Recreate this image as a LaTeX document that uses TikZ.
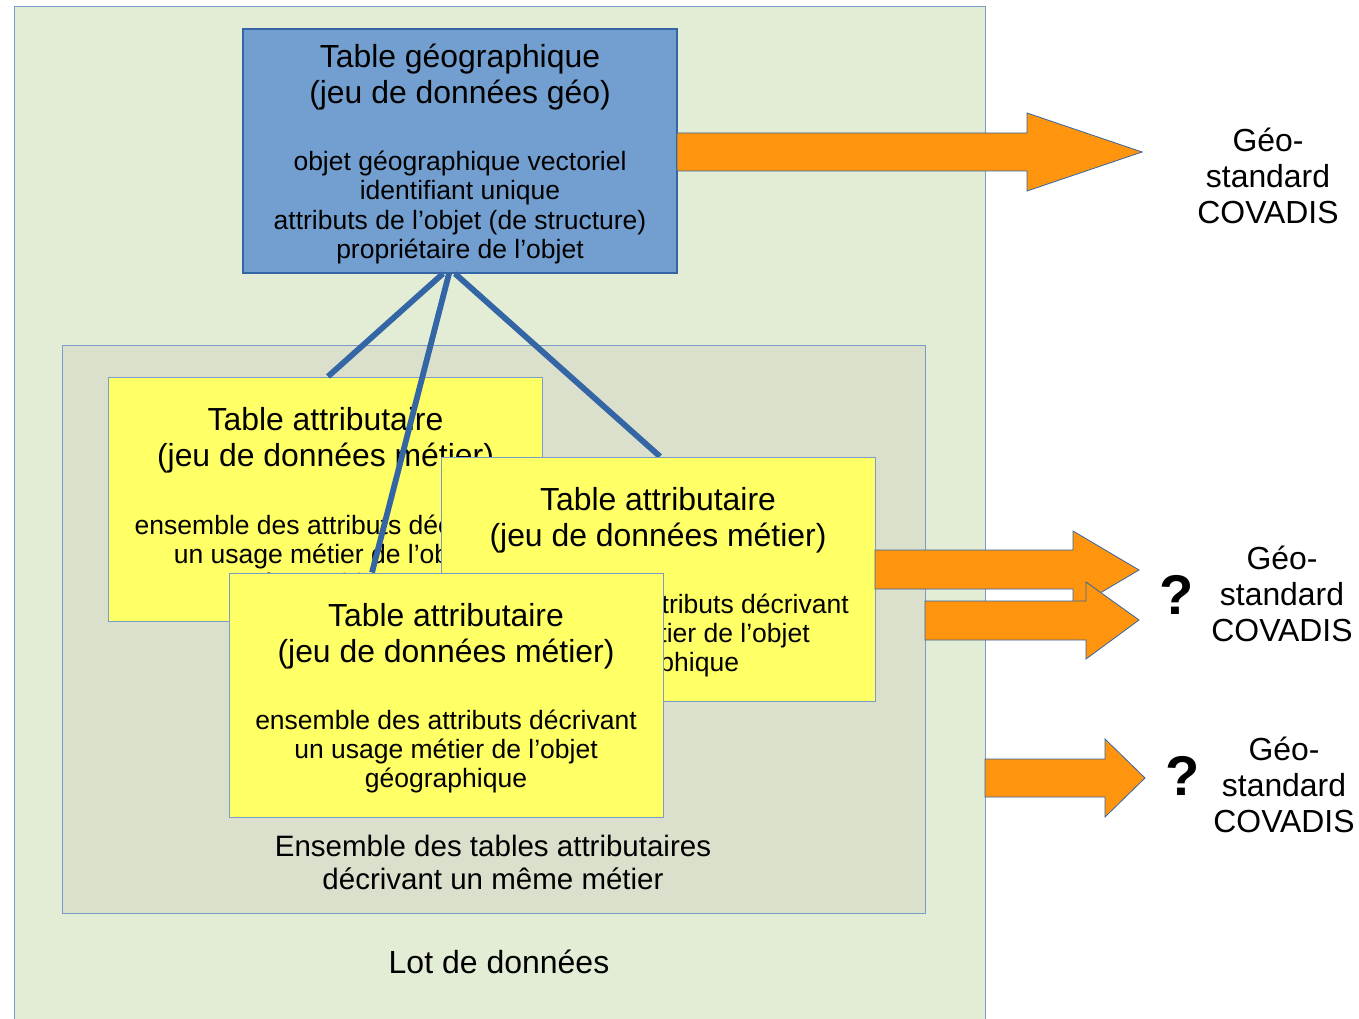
\documentclass[tikz,border=0pt]{standalone}
\usepackage{fontspec}
\setmainfont{Liberation Sans}
\usetikzlibrary{calc}
\definecolor{lotfill}{HTML}{E3EDD5}
\definecolor{innerfill}{HTML}{DAE0CC}
\definecolor{geofill}{HTML}{729FCF}
\definecolor{darkblue}{HTML}{3465A4}
\definecolor{edgeblue}{HTML}{7A9CC8}
\definecolor{yel}{HTML}{FFFF66}
\definecolor{orng}{HTML}{FF950E}
\newcommand{\ftitle}{\fontsize{31.9}{36}\selectfont}
\newcommand{\fbody}{\fontsize{26.5}{29.3}\selectfont}
\newcommand{\flabel}{\fontsize{29.5}{33}\selectfont}
\newcommand{\flot}{\fontsize{32}{36}\selectfont}
\newcommand{\fgeo}{\fontsize{31.9}{36}\selectfont}
\tikzset{
  boxbase/.style={rectangle, inner sep=0pt, minimum width=434pt, minimum height=244pt},
  geobox/.style={boxbase, fill=geofill, draw=darkblue, line width=1.2pt},
  attrbox/.style={boxbase, fill=yel, draw=edgeblue, line width=1pt},
  txt/.style={inner sep=0pt, align=center, text=black},
  link/.style={draw=darkblue, line width=5.8pt},
  bigarrow/.style={fill=orng, draw=darkblue, line width=0.8pt, line join=miter},
}
\begin{document}
\begin{tikzpicture}[x=1pt,y=-1pt]
\useasboundingbox (0,0) rectangle (1359,1019);
\clip (0,0) rectangle (1359,1019);
\fill[white] (0,0) rectangle (1359,1019);
% outer and inner containers
\node[rectangle, draw=edgeblue, fill=lotfill, line width=1pt, inner sep=0pt,
      minimum width=971pt, minimum height=1030pt] (lot) at (499.5,522) {};
\node[rectangle, draw=edgeblue, fill=innerfill, line width=1pt, inner sep=0pt,
      minimum width=863pt, minimum height=568pt] (ens) at (493.5,629) {};
\node[txt, font=\flabel] (enst) at (493,862.5) {Ensemble des tables attributaires\\d\'ecrivant un m\^eme m\'etier};
\node[txt, font=\flot] (lott) at (499,962) {Lot de donn\'ees};
% geographic table
\node[geobox] (geo) at (460,151) {};
\node[txt, font=\ftitle] (geot) at ($(geo.north)+(0,49)$) {Table g\'eographique\\(jeu de donn\'ees g\'eo)};
\node[txt, font=\fbody] (geob) at ($(geo.north)+(0,179)$) {objet g\'eographique vectoriel\\identifiant unique\\attributs de l’objet (de structure)\\propri\'etaire de l’objet};
% attribute table 1
\node[attrbox] (b1) at (325.5,499) {};
\node[txt, font=\ftitle] (b1t) at ($(b1.north)+(0,64)$) {Table attributaire\\(jeu de donn\'ees m\'etier)};
\node[txt, font=\fbody] (b1b) at ($(b1.north)+(0,180)$) {ensemble des attributs d\'ecrivant\\un usage m\'etier de l’objet\\g\'eographique};
% connectors
\draw[link] ($(geo.south)+(-17,0)$) -- ($(b1.north)+(2.5,0)$);
\node[attrbox] (b2) at (658,579) {};
\node[attrbox] (b3) at (446,695) {};
\draw[link] ($(geo.south)+(-11,0)$) -- ($(b3.north)+(-74,0)$);
\draw[link] ($(geo.south)+(-5,0)$) -- ($(b2.north)+(2,0)$);
% attribute table 2
\node[attrbox] (b2) at (658,579) {};
\node[txt, font=\ftitle] (b2t) at ($(b2.north)+(0,64)$) {Table attributaire\\(jeu de donn\'ees m\'etier)};
\node[txt, font=\fbody] (b2b) at ($(b2.north)+(0,179)$) {ensemble des attributs d\'ecrivant\\un usage m\'etier de l’objet\\g\'eographique};
% attribute table 3
\node[attrbox] (b3) at (446,695) {};
\node[txt, font=\ftitle] (b3t) at ($(b3.north)+(0,64)$) {Table attributaire\\(jeu de donn\'ees m\'etier)};
\node[txt, font=\fbody] (b3b) at ($(b3.north)+(0,179)$) {ensemble des attributs d\'ecrivant\\un usage m\'etier de l’objet\\g\'eographique};
% arrows
\draw[bigarrow] (677,133) -- (1027,133) -- (1027,113) -- (1142,152) -- (1027,191) -- (1027,171) -- (677,171) -- cycle;
\draw[bigarrow] (875,550) -- (1073,550) -- (1073,531) -- (1139,570) -- (1073,609) -- (1073,589) -- (875,589) -- cycle;
\draw[bigarrow] (925,601) -- (1086,601) -- (1086,582) -- (1139,620) -- (1086,659) -- (1086,640) -- (925,640) -- cycle;
\draw[bigarrow] (985,759) -- (1105,759) -- (1105,739) -- (1145,778) -- (1105,817) -- (1105,797) -- (985,797) -- cycle;
% labels
\node[txt, font=\fgeo] (cov1) at (1268,176) {G\'eo-\\standard\\COVADIS};
\node[txt, font=\fgeo] (cov2) at (1282,594) {G\'eo-\\standard\\COVADIS};
\node[txt, font=\fgeo] (cov3) at (1284,785) {G\'eo-\\standard\\COVADIS};
\node[txt, font=\fontsize{56}{60}\selectfont\bfseries] (q2) at (1177,595) {?};
\node[txt, font=\fontsize{56}{60}\selectfont\bfseries] (q3) at (1183,776) {?};
\end{tikzpicture}
\end{document}
